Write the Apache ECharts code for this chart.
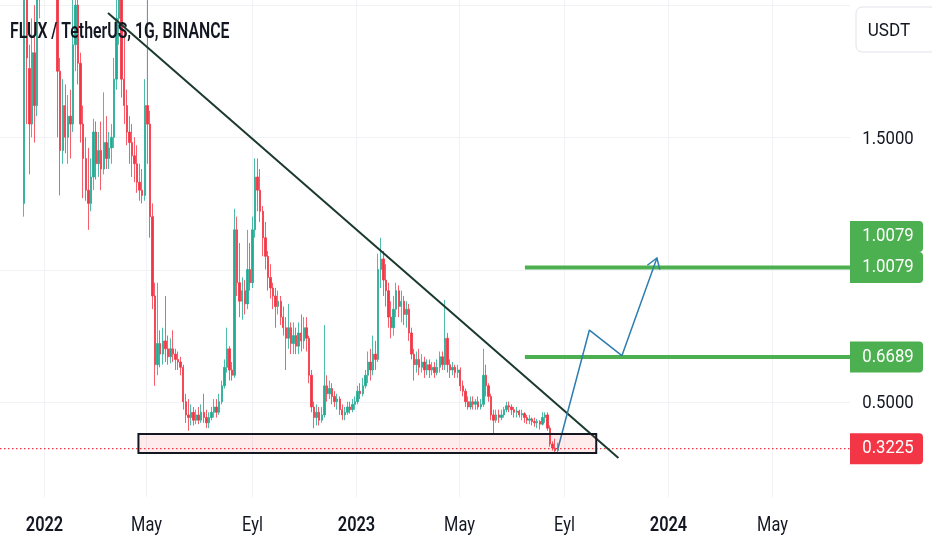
<!DOCTYPE html>
<html><head><meta charset="utf-8">
<script src="https://cdn.jsdelivr.net/npm/echarts@6/dist/echarts.min.js"></script>
<style>html,body{margin:0;padding:0;background:#fff}#c{width:932px;height:550px}</style>
</head><body><div id="c"></div>
<script>
// ---------- data ----------
const titleText = 'FLUX / TetherUS, 1G, BINANCE';
const currencyText = 'USDT';
const firstCandle = '2021-12-09';
const candleStepDays = 3;
// [open, close, low, high]
const ohlc = [
[1.25,2.20,1.20,2.40],[2.20,1.80,1.55,2.50],[1.76,1.55,1.36,1.85],[1.55,1.82,1.50,1.95],[1.82,1.62,1.48,2.00],
[1.62,2.10,1.58,2.40],[2.10,2.30,1.95,2.60],[2.30,2.50,2.10,2.70],[2.50,2.70,2.30,2.90],[2.70,2.60,2.40,2.90],
[2.60,2.75,2.45,3.00],[2.75,2.55,2.35,2.90],[2.55,2.30,2.10,2.70],[2.30,1.75,1.50,2.40],[1.75,1.45,1.28,1.80],
[1.45,1.62,1.40,1.72],[1.62,1.50,1.44,1.70],[1.50,1.58,1.40,1.66],[1.58,1.55,1.42,1.68],[1.55,1.85,1.52,2.10],
[1.85,2.00,1.75,2.20],[2.00,1.78,1.70,2.15],[1.78,1.55,1.48,1.82],[1.55,1.42,1.27,1.62],[1.42,1.30,1.26,1.50],
[1.30,1.25,1.15,1.46],[1.25,1.35,1.22,1.42],[1.35,1.52,1.30,1.57],[1.52,1.40,1.34,1.56],[1.40,1.45,1.35,1.52],
[1.45,1.38,1.30,1.56],[1.38,1.48,1.36,1.67],[1.48,1.42,1.38,1.58],[1.42,1.46,1.38,1.52],[1.46,1.50,1.40,1.55],
[1.50,1.72,1.46,1.80],[1.72,1.95,1.68,2.05],[1.95,2.05,1.85,2.20],[2.05,1.72,1.65,2.10],[1.72,1.62,1.55,1.90],
[1.62,1.52,1.47,1.68],[1.52,1.48,1.40,1.58],[1.48,1.43,1.35,1.55],[1.43,1.40,1.33,1.50],[1.40,1.33,1.29,1.47],
[1.33,1.30,1.26,1.40],[1.30,1.28,1.25,1.38],[1.28,1.62,1.26,1.72],[1.62,1.55,1.40,2.10],[1.55,1.20,1.12,1.60],
[1.20,0.90,0.85,1.25],[0.90,0.64,0.56,0.95],[0.64,0.72,0.60,0.95],[0.72,0.68,0.63,0.77],[0.68,0.73,0.64,0.78],
[0.73,0.70,0.65,0.90],[0.70,0.67,0.64,0.75],[0.67,0.70,0.645,0.74],[0.70,0.68,0.65,0.77],[0.68,0.66,0.62,0.70],
[0.66,0.65,0.62,0.69],[0.65,0.63,0.60,0.67],[0.63,0.50,0.47,0.64],[0.50,0.45,0.42,0.53],[0.45,0.44,0.39,0.51],
[0.44,0.46,0.41,0.49],[0.46,0.43,0.41,0.48],[0.43,0.45,0.415,0.47],[0.45,0.43,0.415,0.48],[0.43,0.46,0.42,0.49],
[0.46,0.44,0.42,0.53],[0.44,0.42,0.40,0.47],[0.42,0.44,0.40,0.46],[0.44,0.46,0.43,0.48],[0.46,0.48,0.44,0.51],
[0.48,0.46,0.44,0.51],[0.46,0.50,0.45,0.53],[0.50,0.56,0.49,0.58],[0.56,0.63,0.55,0.66],[0.63,0.70,0.61,0.78],
[0.70,0.62,0.58,0.71],[0.62,0.60,0.58,0.65],[0.60,1.15,0.59,1.23],[1.15,0.95,0.90,1.20],[0.95,0.88,0.82,1.10],
[0.88,0.92,0.81,0.97],[0.92,0.87,0.83,0.96],[0.87,1.00,0.85,1.15],[1.00,0.95,0.92,1.10],[0.95,1.15,0.93,1.20],
[1.15,1.35,1.12,1.42],[1.35,1.30,1.22,1.42],[1.30,1.22,1.18,1.38],[1.22,1.12,1.05,1.24],[1.12,1.05,1.00,1.18],
[1.05,0.97,0.92,1.07],[0.97,0.93,0.89,1.02],[0.93,0.90,0.85,0.95],[0.90,0.86,0.78,0.93],[0.86,0.88,0.83,0.92],
[0.88,0.82,0.79,0.90],[0.82,0.78,0.75,0.86],[0.78,0.74,0.62,0.82],[0.74,0.78,0.70,0.87],[0.78,0.72,0.68,0.80],
[0.72,0.75,0.68,0.80],[0.75,0.71,0.68,0.78],[0.71,0.76,0.68,0.80],[0.76,0.73,0.69,0.83],[0.73,0.78,0.70,0.82],
[0.78,0.74,0.69,0.82],[0.74,0.60,0.57,0.75],[0.60,0.48,0.46,0.62],[0.48,0.44,0.40,0.50],[0.44,0.46,0.41,0.49],
[0.46,0.43,0.41,0.48],[0.43,0.45,0.42,0.48],[0.45,0.56,0.44,0.79],[0.56,0.53,0.50,0.60],[0.53,0.55,0.51,0.58],
[0.55,0.52,0.49,0.57],[0.52,0.50,0.48,0.54],[0.50,0.51,0.47,0.53],[0.51,0.47,0.45,0.52],[0.47,0.45,0.43,0.49],
[0.45,0.46,0.43,0.48],[0.46,0.48,0.45,0.50],[0.48,0.47,0.455,0.50],[0.47,0.49,0.46,0.51],[0.49,0.50,0.47,0.52],
[0.50,0.54,0.49,0.56],[0.54,0.53,0.51,0.57],[0.53,0.56,0.52,0.59],[0.56,0.60,0.55,0.62],[0.60,0.65,0.57,0.69],
[0.65,0.62,0.58,0.70],[0.62,0.68,0.60,0.75],[0.68,0.66,0.62,0.73],[0.66,1.00,0.65,1.06],[1.00,1.04,0.93,1.12],
[1.04,0.96,0.90,1.07],[0.96,0.92,0.86,1.02],[0.92,0.82,0.78,0.95],[0.82,0.78,0.74,0.88],[0.78,0.85,0.75,0.90],
[0.85,0.92,0.82,0.95],[0.92,0.86,0.82,0.94],[0.86,0.88,0.80,0.92],[0.88,0.83,0.79,0.90],[0.83,0.85,0.78,0.88],
[0.85,0.76,0.73,0.87],[0.76,0.68,0.66,0.78],[0.68,0.64,0.58,0.70],[0.64,0.66,0.61,0.69],[0.66,0.63,0.60,0.70],
[0.63,0.65,0.61,0.68],[0.65,0.62,0.59,0.67],[0.62,0.64,0.60,0.66],[0.64,0.62,0.59,0.66],[0.62,0.63,0.60,0.65],
[0.63,0.61,0.59,0.65],[0.61,0.63,0.60,0.66],[0.63,0.67,0.61,0.69],[0.67,0.64,0.62,0.69],[0.64,0.74,0.62,0.885],
[0.74,0.64,0.61,0.76],[0.64,0.62,0.59,0.66],[0.62,0.63,0.60,0.65],[0.63,0.61,0.59,0.64],[0.61,0.62,0.59,0.64],
[0.62,0.56,0.54,0.63],[0.56,0.54,0.52,0.58],[0.54,0.50,0.48,0.55],[0.50,0.48,0.47,0.52],[0.48,0.50,0.47,0.52],
[0.50,0.49,0.47,0.52],[0.49,0.50,0.47,0.51],[0.50,0.48,0.47,0.52],[0.48,0.49,0.47,0.51],[0.49,0.60,0.48,0.70],
[0.60,0.56,0.52,0.64],[0.56,0.52,0.50,0.57],[0.52,0.45,0.43,0.53],[0.45,0.43,0.38,0.47],[0.43,0.45,0.42,0.47],
[0.45,0.44,0.42,0.47],[0.44,0.45,0.43,0.47],[0.45,0.47,0.44,0.48],[0.47,0.485,0.46,0.50],[0.485,0.48,0.46,0.50],
[0.48,0.47,0.45,0.49],[0.47,0.46,0.44,0.48],[0.46,0.465,0.44,0.48],[0.465,0.45,0.44,0.47],[0.45,0.455,0.43,0.47],
[0.455,0.44,0.42,0.46],[0.44,0.43,0.415,0.45],[0.43,0.435,0.415,0.45],[0.435,0.425,0.41,0.44],[0.425,0.42,0.405,0.44],
[0.42,0.425,0.40,0.435],[0.425,0.415,0.395,0.43],[0.415,0.44,0.41,0.46],[0.44,0.45,0.42,0.46],[0.45,0.40,0.39,0.46],
[0.40,0.34,0.33,0.41],[0.34,0.325,0.315,0.35],[0.325,0.315,0.31,0.36],[0.315,0.3225,0.31,0.345]
];
const lastPrice = 0.3225;
const viewRange = ['2021-11-10 16:00', '2024-07-31 19:00'];
const priceRange = [0.1396, 2.0193];
const priceGrid = [0.5, 1.0, 1.5, 2.0];
const priceAxisLabels = [1.5, 0.5];
const timeTicks = ['2022-01-01','2022-05-01','2022-09-01','2023-01-01','2023-05-01','2023-09-01','2024-01-01','2024-05-01'];
const timeTickLabels = ['2022','May','Eyl','2023','May','Eyl','2024','May'];
const trendLine = [['2022-03-17', 1.970], ['2023-11-04', 0.287]];
const levelStart = '2023-07-17 14:00';
const levels = [1.0079, 0.6689];
const zoneTimes = ['2022-04-21 14:00', '2023-10-09'];
const zonePrices = [0.378, 0.306];
const projection = [['2023-08-25', 0.320], ['2023-10-01', 0.771], ['2023-11-08', 0.674], ['2023-12-19', 1.0435]];

// ---------- helpers ----------
function T(s) {
  const parts = s.split(' ');
  const d = parts[0].split('-').map(Number);
  const hm = (parts[1] || '0:0').split(':').map(Number);
  return new Date(d[0], d[1] - 1, d[2], hm[0], hm[1]).getTime();
}
const fd = firstCandle.split('-').map(Number);
const candleData = ohlc.map((c, i) => [new Date(fd[0], fd[1] - 1, fd[2] + candleStepDays * i).getTime(), c[0], c[1], c[2], c[3]]);
const xMin = T(viewRange[0]), xMax = T(viewRange[1]);
const UP = '#22ab94', DOWN = '#f23645';

const chart = echarts.init(document.getElementById('c'));
const option = {
  animation: false,
  backgroundColor: '#ffffff',
  grid: { left: 0, right: 82, top: 0, bottom: 53 },
  xAxis: { type: 'time', min: xMin, max: xMax, show: false },
  yAxis: { type: 'value', position: 'right', min: priceRange[0], max: priceRange[1], show: false, scale: true },
  series: [
    { type: 'candlestick', data: candleData, encode: { x: 0, y: [1, 2, 3, 4] }, barWidth: 1.9, clip: true, silent: true, z: 2,
      itemStyle: { color: UP, color0: DOWN, borderColor: UP, borderColor0: DOWN, borderWidth: 0.8 } },
    { type: 'line', data: [[xMin, lastPrice], [xMax, lastPrice]], symbol: 'none', silent: true, z: 3,
      lineStyle: { color: DOWN, width: 1.2, type: [1.5, 2.5] } },
    { type: 'line', data: trendLine.map(p => [T(p[0]), p[1]]), symbol: 'none', silent: true, z: 5,
      lineStyle: { color: '#1b3a2d', width: 2 } },
    ...levels.map(v => ({ type: 'line', data: [[T(levelStart), v], [xMax, v]], symbol: 'none', silent: true, z: 5,
      lineStyle: { color: '#4caf50', width: 4 } })),
    { type: 'line', data: projection.map(p => [T(p[0]), p[1]]), symbol: 'none', silent: true, z: 6,
      lineStyle: { color: '#2e7db0', width: 1.5 } }
  ]
};
chart.setOption(option);

const xPx = t => chart.convertToPixel({ xAxisIndex: 0 }, t);
const yPx = v => chart.convertToPixel({ yAxisIndex: 0 }, v);
const plotRight = xPx(xMax), plotBottom = yPx(priceRange[0]);
const els = [];
function txt(str, x, y, font, fill, sx, align) {
  return { type: 'text', x: x, y: y, scaleX: sx, z: 100, silent: true,
    style: { text: str, x: 0, y: 0, align: align || 'center', verticalAlign: 'middle', font: font, fill: fill } };
}
// grid lines
priceGrid.forEach(v => {
  const y = Math.round(yPx(v)) + 0.5;
  els.push({ type: 'line', z: 0, silent: true, shape: { x1: 0, y1: y, x2: plotRight, y2: y }, style: { stroke: '#f0f2f5', lineWidth: 1 } });
});
timeTicks.forEach((d, i) => {
  const x = Math.round(xPx(T(d))) + 0.5;
  els.push({ type: 'line', z: 0, silent: true, shape: { x1: x, y1: 0, x2: x, y2: plotBottom }, style: { stroke: '#f0f2f5', lineWidth: 1 } });
  const bold = /^\d{4}$/.test(timeTickLabels[i]);
  els.push(txt(timeTickLabels[i], x, 526, (bold ? '600 ' : '400 ') + '21px Roboto', '#131722', 0.78));
});
// zone rectangle
const zx1 = xPx(T(zoneTimes[0])), zx2 = xPx(T(zoneTimes[1]));
const zy1 = yPx(zonePrices[0]), zy2 = yPx(zonePrices[1]);
els.push({ type: 'rect', z: 50, silent: true, shape: { x: zx1, y: zy1, width: zx2 - zx1, height: zy2 - zy1 },
  style: { fill: 'rgba(242,54,69,0.10)', stroke: '#131722', lineWidth: 2 } });
// arrow head at end of projection
const pA = projection[projection.length - 2], pB = projection[projection.length - 1];
const ax = xPx(T(pA[0])), ay = yPx(pA[1]), bx = xPx(T(pB[0])), by = yPx(pB[1]);
const ang = Math.atan2(ay - by, ax - bx);
const L = 12, da = 0.58;
els.push({ type: 'polyline', z: 60, silent: true,
  shape: { points: [[bx + L * Math.cos(ang + da), by + L * Math.sin(ang + da)], [bx, by], [bx + L * Math.cos(ang - da), by + L * Math.sin(ang - da)]] },
  style: { stroke: '#2e7db0', lineWidth: 1.5, fill: null } });
// price axis labels
const labelFont = '400 19px Roboto';
priceAxisLabels.forEach(v => els.push(txt(v.toFixed(4), 888, yPx(v) + 2, labelFont, '#131722', 0.88)));
// price boxes
function priceBox(v, yc, color) {
  els.push({ type: 'rect', z: 90, silent: true, shape: { x: plotRight, y: yc - 15.5, width: 73, height: 31, r: [0, 4, 4, 0] }, style: { fill: color } });
  els.push(txt(v.toFixed(4), 888, yc, labelFont, '#ffffff', 0.88));
}
const yL0 = yPx(levels[0]);
priceBox(levels[0], yL0 - 31, '#4caf50');
priceBox(levels[0], yL0, '#4caf50');
priceBox(levels[1], yPx(levels[1]), '#4caf50');
priceBox(lastPrice, yPx(lastPrice), DOWN);
// currency box
els.push({ type: 'rect', z: 90, silent: true, shape: { x: 856, y: 7, width: 80, height: 45, r: 6 }, style: { fill: '#ffffff', stroke: '#e0e3eb', lineWidth: 1 } });
els.push(txt(currencyText, 889, 31, '400 18px Roboto', '#131722', 0.95));
// title
els.push(txt(titleText, 10, 32, '600 22px Roboto', '#131722', 0.72, 'left'));
chart.setOption({ graphic: { elements: els } });
</script>
</body></html>
